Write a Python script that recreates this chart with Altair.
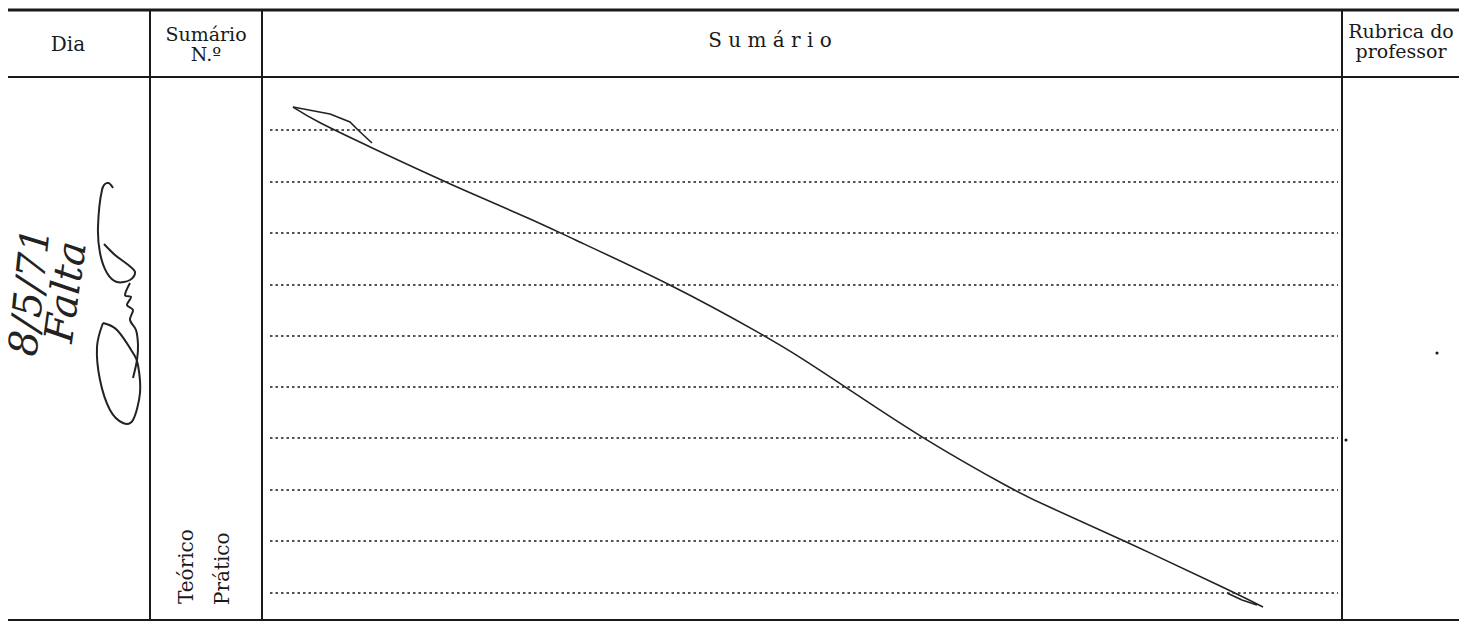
import altair as alt
import pandas as pd

# visible page window of the scanned sheet (reference pixel coordinates)
X0, X1 = 8, 1459
Y0, Y1 = 8, 622

# ruled structure of the form
col_x = [150, 262, 1342]
col_top = [10, 10, 10]
col_bottom = [620, 620, 620]
hrule_y = [10, 77, 620]
hrule_w = [3.0, 2.0, 2.0]
dotted_y = [130, 182, 233, 285, 336, 387, 438, 490, 541, 593]
dotted_x0 = 270
dotted_x1 = 1338

# printed header text (single-line labels)
header_text = ["Dia", "S u m á r i o"]
header_x = [68, 770]
header_y = [51, 47]

# printed header text (two-line labels)
header2_text = ["Sumário", "N.º", "Rubrica do", "professor"]
header2_x = [206, 206, 1401, 1401]
header2_y = [41, 61, 38, 58]

# vertical printed labels
side_text = ["Teórico", "Prático"]
side_x = [193, 229]
side_y = [604, 605]

# handwritten entries
hand_text = ["8/5/71", "Falta"]
hand_x = [31, 67]
hand_y = [292, 292]
hand_angle = [276, 278]

# handwritten diagonal strike-through
main_x = [293, 313, 370, 447, 540, 560, 673, 767, 800, 847, 923, 1017, 1040, 1123, 1233, 1263]
main_y = [107, 120, 147, 183, 223, 233, 285, 337, 357, 388, 439, 492, 503, 540, 592, 607]
loop_x = [293, 330, 350, 358, 372]
loop_y = [107, 114, 122, 130, 143]
hook_x = [1227, 1242, 1257]
hook_y = [593, 600, 605]

# signature strokes
sig_a_x = [113, 108, 102, 98, 100, 107, 117, 130, 135, 127, 115, 104]
sig_a_y = [188, 183, 190, 227, 253, 273, 282, 280, 272, 264, 255, 244]
sig_b_x = [130, 125, 131, 127, 133, 130, 136, 138, 137, 133]
sig_b_y = [283, 295, 297, 305, 310, 320, 330, 345, 360, 378]
sig_c_x = [103, 97, 100, 110, 123, 133, 140, 138, 133, 117, 103]
sig_c_y = [323, 347, 380, 410, 423, 420, 393, 365, 353, 330, 323]

# stray ink marks near the right column
speck_x = [1437, 1346]
speck_y = [353, 440]

INK = "#1a1a1a"
PEN = "#222222"
FONT = "DejaVu Serif"

xs = alt.Scale(domain=[X0, X1], nice=False, zero=False)
ys = alt.Scale(domain=[Y0, Y1], nice=False, zero=False, reverse=True)


def X(f="x"):
    return alt.X(f"{f}:Q", scale=xs, axis=None)


def Y(f="y"):
    return alt.Y(f"{f}:Q", scale=ys, axis=None)


vcols = pd.DataFrame({"x": col_x, "y": col_top, "y2": col_bottom})
verticals = alt.Chart(vcols).mark_rule(color=INK, strokeWidth=2).encode(
    x=X(), y=Y(), y2="y2:Q"
)

hr = pd.DataFrame({"x": [X0] * 3, "x2": [X1] * 3, "y": hrule_y, "w": hrule_w})
hrules = alt.Chart(hr).mark_rule(color=INK).encode(
    x=X(), x2="x2:Q", y=Y(),
    strokeWidth=alt.StrokeWidth("w:Q", scale=None, legend=None),
)

dots = pd.DataFrame({"x": [dotted_x0] * len(dotted_y), "x2": [dotted_x1] * len(dotted_y), "y": dotted_y})
dotted = alt.Chart(dots).mark_rule(color=INK, strokeWidth=1.3, strokeDash=[2.5, 3]).encode(
    x=X(), x2="x2:Q", y=Y()
)

hdr = pd.DataFrame({"x": header_x, "y": header_y, "t": header_text})
headers = alt.Chart(hdr).mark_text(font=FONT, fontSize=20, color=INK, align="center", baseline="alphabetic").encode(
    x=X(), y=Y(), text="t:N"
)

hdr2 = pd.DataFrame({"x": header2_x, "y": header2_y, "t": header2_text})
headers2 = alt.Chart(hdr2).mark_text(font=FONT, fontSize=19, color=INK, align="center", baseline="alphabetic").encode(
    x=X(), y=Y(), text="t:N"
)

sd = pd.DataFrame({"x": side_x, "y": side_y, "t": side_text})
sides = alt.Chart(sd).mark_text(font=FONT, fontSize=20, color=INK, align="left", baseline="alphabetic", angle=270).encode(
    x=X(), y=Y(), text="t:N"
)

hd = pd.DataFrame({"x": hand_x, "y": hand_y, "t": hand_text, "a": hand_angle})
hand = alt.Chart(hd).mark_text(font=FONT, fontSize=40, fontStyle="italic", color=PEN, align="center",
                                baseline="middle").encode(
    x=X(), y=Y(), text="t:N", angle=alt.Angle("a:Q", scale=None)
)


def stroke(name, sx, sy):
    return pd.DataFrame({"x": sx, "y": sy, "o": list(range(len(sx))), "s": [name] * len(sx)})


strike = stroke("main", main_x, main_y)
strike_main = alt.Chart(strike).mark_line(color=PEN, strokeWidth=1.6, interpolate="basis").encode(
    x=X(), y=Y(), order="o:Q", detail="s:N"
)
small = pd.concat([stroke("loop", loop_x, loop_y), stroke("hook", hook_x, hook_y)])
strike_small = alt.Chart(small).mark_line(color=PEN, strokeWidth=1.6, interpolate="linear").encode(
    x=X(), y=Y(), order="o:Q", detail="s:N"
)
sig = pd.concat([stroke("a", sig_a_x, sig_a_y), stroke("b", sig_b_x, sig_b_y), stroke("c", sig_c_x, sig_c_y)])
signature = alt.Chart(sig).mark_line(color=PEN, strokeWidth=2, interpolate="cardinal").encode(
    x=X(), y=Y(), order="o:Q", detail="s:N"
)

sp = pd.DataFrame({"x": speck_x, "y": speck_y})
specks = alt.Chart(sp).mark_point(filled=True, color=INK, size=10, opacity=1).encode(x=X(), y=Y())

chart = alt.layer(
    dotted, hrules, verticals, headers, headers2, sides, hand, strike_main, strike_small, signature, specks
).properties(
    width=X1 - X0, height=Y1 - Y0, padding=0,
    autosize=alt.AutoSizeParams(type="none"),
    background="white",
).configure_view(stroke=None)

chart.save("out.html", embed_options={"renderer": "svg", "actions": False})
